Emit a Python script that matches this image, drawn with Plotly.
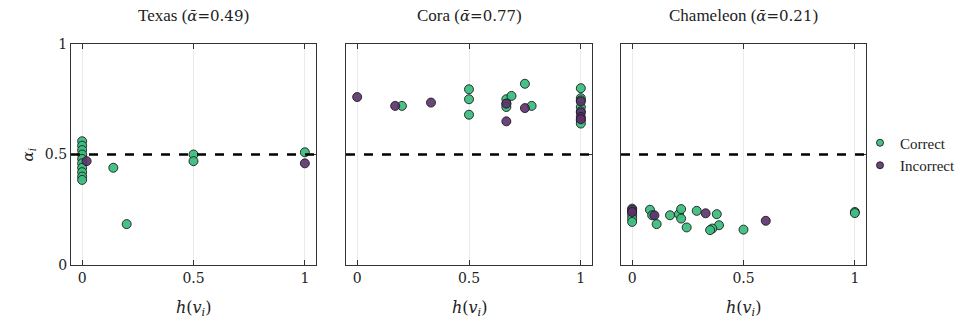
import plotly.graph_objects as go

titles = ["Texas", "Cora", "Chameleon"]
title_alpha = ["0.49", "0.77", "0.21"]
mean_alpha = [0.5, 0.5, 0.5]

# Texas
tx_c_x = [0, 0, 0, 0, 0, 0, 0, 0, 0, 0, 0.14, 0.2, 0.5, 0.5, 1]
tx_c_y = [0.56, 0.54, 0.52, 0.50, 0.48, 0.46, 0.44, 0.42, 0.40, 0.385, 0.44, 0.185, 0.50, 0.47, 0.51]
tx_i_x = [0.02, 1]
tx_i_y = [0.47, 0.46]

# Cora
co_c_x = [0.2, 0.5, 0.5, 0.5, 0.667, 0.667, 0.667, 0.69, 0.75, 0.78, 1, 1, 1, 1, 1, 1, 1]
co_c_y = [0.72, 0.795, 0.75, 0.68, 0.75, 0.73, 0.715, 0.765, 0.82, 0.72, 0.80, 0.755, 0.745, 0.715, 0.695, 0.655, 0.64]
co_i_x = [0, 0.17, 0.33, 0.667, 0.667, 0.75, 1, 1, 1, 1]
co_i_y = [0.76, 0.72, 0.735, 0.73, 0.65, 0.71, 0.74, 0.69, 0.67, 0.66]

# Chameleon
ch_c_x = [0, 0, 0, 0, 0, 0.08, 0.09, 0.11, 0.17, 0.21, 0.22, 0.22, 0.245, 0.29, 0.38, 0.39, 0.36, 0.35, 0.5, 1, 1]
ch_c_y = [0.255, 0.24, 0.225, 0.21, 0.195, 0.25, 0.225, 0.185, 0.225, 0.23, 0.253, 0.21, 0.17, 0.245, 0.23, 0.18, 0.165, 0.158, 0.16, 0.24, 0.235]
ch_i_x = [0, 0, 0.10, 0.33, 0.6]
ch_i_y = [0.25, 0.24, 0.225, 0.234, 0.2]

panels = [(tx_c_x, tx_c_y, tx_i_x, tx_i_y),
          (co_c_x, co_c_y, co_i_x, co_i_y),
          (ch_c_x, ch_c_y, ch_i_x, ch_i_y)]

x_ticks = [0, 0.5, 1]
x_tick_text = ["0", "0.5", "1"]
y_ticks = [0, 0.5, 1]
y_tick_text = ["0", "0.5", "1"]

green = "rgba(61,190,128,0.95)"
purple = "rgba(92,48,110,0.9)"
edge = "rgba(30,30,30,0.9)"

W, H = 956, 320
domains = [(71 / W, 316 / W), (346 / W, 592 / W), (621 / W, 866 / W)]
ydom = (1 - 265 / H, 1 - 44 / H)

fig = go.Figure()
for k, (cx, cy, ix, iy) in enumerate(panels):
    xa = "x" if k == 0 else f"x{k+1}"
    ya = "y" if k == 0 else f"y{k+1}"
    fig.add_trace(go.Scatter(x=cx, y=cy, mode="markers", name="Correct", xaxis=xa, yaxis=ya,
                             marker=dict(size=9, color=green, line=dict(color=edge, width=1)),
                             showlegend=False))
    fig.add_trace(go.Scatter(x=ix, y=iy, mode="markers", name="Incorrect", xaxis=xa, yaxis=ya,
                             marker=dict(size=9, color=purple, line=dict(color=edge, width=1)),
                             showlegend=False))
    fig.add_shape(type="line", xref=f"{xa} domain", yref=ya, x0=0, x1=1,
                  y0=mean_alpha[k], y1=mean_alpha[k],
                  line=dict(color="black", width=2.5, dash="dash"), layer="above")
    ttl = (f"{titles[k]} (<span style='font-family:DejaVu Serif;font-size:15px'>"
           f"<i>ᾱ</i>={title_alpha[k]}</span>)")
    fig.add_annotation(text=ttl, xref=f"{xa} domain", yref="paper", x=0.5, y=1 - 15 / H,
                       yanchor="middle", showarrow=False,
                       font=dict(family="Liberation Serif", size=17, color="#222"))
    fig.add_annotation(text="<i>h</i>(<i>v<sub>i</sub></i>)", xref=f"{xa} domain", yref="paper",
                       x=0.5, y=1 - 308 / H, yanchor="middle", showarrow=False,
                       font=dict(family="DejaVu Serif", size=16, color="#222"))

# legend-only entries
for name, col in [("Correct", green), ("Incorrect", purple)]:
    fig.add_trace(go.Scatter(x=[None], y=[None], mode="markers", name=name,
                             marker=dict(size=7, color=col, line=dict(color=edge, width=1)),
                             showlegend=True))

fig.add_annotation(text="<i>α<sub>i</sub></i>", xref="paper", yref="paper", x=16 / W, y=1 - 155 / H,
                   textangle=-90, showarrow=False,
                   font=dict(family="DejaVu Serif", size=15, color="#222"))

axfont = dict(family="DejaVu Serif", size=14, color="#222")
layout = dict(
    width=W, height=H, margin=dict(l=0, r=0, t=0, b=0, autoexpand=False),
    plot_bgcolor="white", paper_bgcolor="white",
    legend=dict(x=860 / W, y=1 - 154 / H, xanchor="left", yanchor="middle",
                font=dict(family="Liberation Serif", size=15, color="#222"),
                itemsizing="trace", itemwidth=30, tracegroupgap=0, bgcolor="rgba(0,0,0,0)"),
)
for k in range(3):
    xk = "xaxis" if k == 0 else f"xaxis{k+1}"
    yk = "yaxis" if k == 0 else f"yaxis{k+1}"
    anchor_y = "y" if k == 0 else f"y{k+1}"
    anchor_x = "x" if k == 0 else f"x{k+1}"
    layout[xk] = dict(domain=list(domains[k]), anchor=anchor_y, range=[-0.05, 1.05],
                      tickvals=x_ticks, ticktext=x_tick_text, ticks="inside", ticklen=5,
                      tickcolor="#333", showline=True, linecolor="#333", linewidth=1.2,
                      mirror="ticks", showgrid=True, gridcolor="#ebebeb", gridwidth=1,
                      zeroline=False, tickfont=axfont, automargin=False)
    layout[yk] = dict(domain=list(ydom), anchor=anchor_x, range=[0, 1],
                      tickvals=y_ticks, ticktext=y_tick_text, ticks="inside", ticklen=5,
                      tickcolor="#333", showline=True, linecolor="#333", linewidth=1.2,
                      mirror="ticks", showgrid=False, zeroline=False, tickfont=axfont,
                      showticklabels=(k == 0), automargin=False)
fig.update_layout(**layout)

fig.write_html("out.html", config={"displayModeBar": False},
               post_script="document.body.style.margin='0';document.body.style.padding='0';")
